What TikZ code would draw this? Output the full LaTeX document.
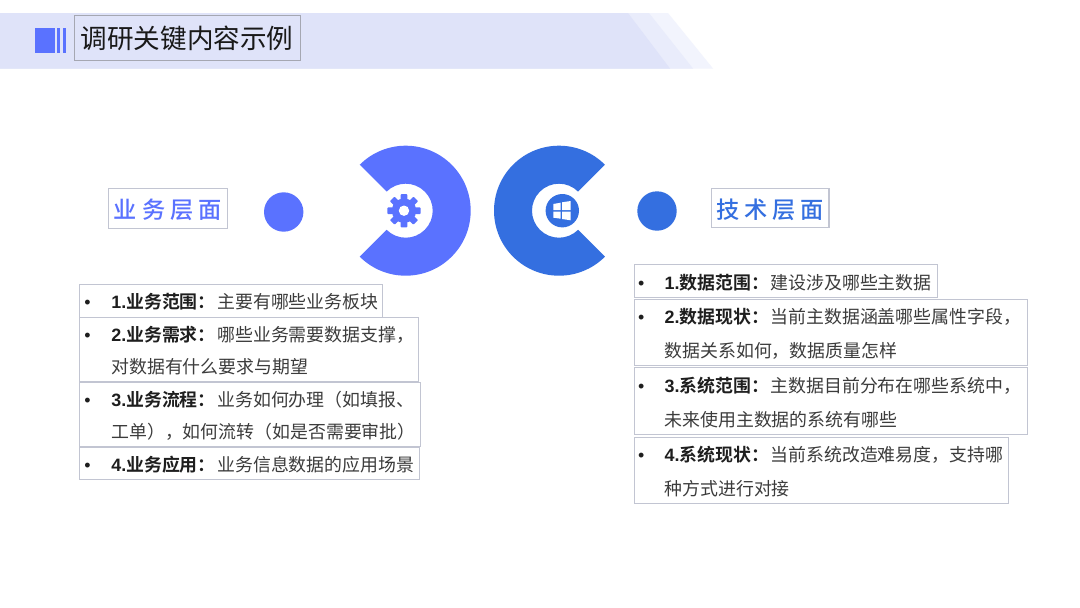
\documentclass[tikz,border=0pt]{standalone}
\usepackage{fontspec}
\setmainfont{Noto Sans CJK SC}[BoldFont={Noto Sans CJK SC Bold}]
\newfontfamily\latinface{Liberation Sans}[BoldFont={Liberation Sans Bold}]
\newfontfamily\tagface{Noto Sans CJK SC Medium}
\definecolor{bandA}{HTML}{DFE3F9}
\definecolor{bandB}{HTML}{E9ECFB}
\definecolor{bandC}{HTML}{F2F4FD}
\definecolor{iris}{HTML}{5A72FF}
\definecolor{azure}{HTML}{346FE0}
\definecolor{frameline}{HTML}{C2C5D2}
\definecolor{bodyink}{HTML}{3C3C3C}
\definecolor{leadink}{HTML}{1E1E1E}
% first line of an item: bullet offset, text offset, number, lead words, rest
\newcommand{\itemhead}[5]{\rule{0pt}{17.5pt}\makebox[#2][l]{\hspace*{#1}{\latinface\textcolor{leadink}{\textbullet}}}\makebox[106pt][l]{\bfseries\color{leadink}{\latinface #3}#4}{\color{bodyink}#5}}
\newcommand{\itemcont}[2]{\hspace*{#1}{\color{bodyink}#2}}
\newcommand{\spaced}[4]{#1\hspace{5pt}#2\hspace{5pt}#3\hspace{5pt}#4}
\tikzset{
  x=1pt,y=-1pt,
  itembox/.style={draw=frameline,line width=1.1pt,anchor=north west,inner sep=0pt,
    font=\fontsize{17.9pt}{#1}\selectfont,align=left},
  tagbox/.style={draw=frameline,line width=1.1pt,inner sep=0pt,text height=24pt,text depth=3.6pt,
    font=\tagface\fontsize{23.2pt}{28pt}\selectfont},
  titlebox/.style={draw=frameline!85!black,line width=1pt,inner sep=0pt,
    font=\fontsize{26.6pt}{32pt}\selectfont,text=black!90},
  tooth/.style={fill=iris,rounded corners=0.8pt},
}
\begin{document}
\begin{tikzpicture}
\useasboundingbox (0,0) rectangle (1080,608);
\fill[white] (0,0) rectangle (1080,608);
% header band
\fill[bandC] (0,13) -- (668,13) -- (713,68.5) -- (0,68.5) -- cycle;
\fill[bandB] (0,13) -- (649,13) -- (693,68.5) -- (0,68.5) -- cycle;
\fill[bandA] (0,13) -- (628,13) -- (670,68.5) -- (0,68.5) -- cycle;
\fill[iris] (35,27.5) rectangle (55,52.5);
\fill[iris] (57.3,27.5) rectangle (60,52.5);
\fill[iris] (62.8,27.5) rectangle (65.6,52.5);
\node[titlebox,minimum width=226pt,minimum height=44.7pt] (title) at (187,38.3) {调研关键内容示例};
% C rings
\fill[iris] (405.7,210.7) ++(-135:65) arc[start angle=-135,delta angle=270,radius=65]
  -- ++(315:38) arc[start angle=135,delta angle=-270,radius=27] -- cycle;
\fill[azure] (559,210.7) ++(-45:65) arc[start angle=-45,delta angle=-270,radius=65]
  -- ++(225:38) arc[start angle=-315,delta angle=270,radius=27] -- cycle;
% gear icon
\foreach \a in {0,45,...,315}{
  \begin{scope}[shift={(404,210.7)},rotate=\a]
    \fill[tooth] (-3.3,-16.6) rectangle (3.3,-9);
  \end{scope}
}
\fill[iris] (404,210.7) circle[radius=12.2];
\fill[white] (404,210.7) circle[radius=5.2];
% windows icon
\fill[azure] (562.3,210.7) circle[radius=16.7];
\fill[white] (553.3,204) -- (560.7,202.7) -- (560.7,210) -- (553.3,210) -- cycle;
\fill[white] (562,202.3) -- (570.7,201) -- (570.7,210) -- (562,210) -- cycle;
\fill[white] (553.3,211.7) -- (560.7,211.7) -- (560.7,218.7) -- (553.3,217.7) -- cycle;
\fill[white] (562,211.7) -- (570.7,211.7) -- (570.7,220.3) -- (562,219) -- cycle;
% dots and tags
\fill[iris] (283.7,212) circle[radius=19.7];
\fill[azure] (657,211) circle[radius=19.7];
\node[tagbox,text=iris,minimum width=119pt,minimum height=40pt] (bizTag) at (167.8,208.3) {\spaced{业}{务}{层}{面}};
\node[tagbox,text=azure,minimum width=117.3pt,minimum height=39pt] (techTag) at (770.3,207.8) {\spaced{技}{术}{层}{面}};
% left items
\node[itembox=32pt,minimum width=303pt,minimum height=32.7pt,text width=303pt] (l1) at (79.3,284)
  {\itemhead{4.5pt}{31.5pt}{1.}{业务范围：}{主要有哪些业务板块}};
\node[itembox=32pt,minimum width=339pt,minimum height=63.7pt,text width=339pt] (l2) at (79.3,317)
  {\itemhead{4.5pt}{31.5pt}{2.}{业务需求：}{哪些业务需要数据支撑，}\\\itemcont{31.5pt}{对数据有什么要求与期望}};
\node[itembox=32pt,minimum width=341pt,minimum height=64pt,text width=341pt] (l3) at (79.3,381.7)
  {\itemhead{4.5pt}{31.5pt}{3.}{业务流程：}{业务如何办理（如填报、}\\\itemcont{31.5pt}{工单），如何流转（如是否需要审批）}};
\node[itembox=32pt,minimum width=339.7pt,minimum height=32.6pt,text width=339.7pt] (l4) at (79.3,446.7)
  {\itemhead{4.5pt}{31.5pt}{4.}{业务应用：}{业务信息数据的应用场景}};
% right items
\node[itembox=34pt,minimum width=302.7pt,minimum height=33.3pt,text width=302.7pt] (r1) at (634,264)
  {\itemhead{3.5pt}{30pt}{1.}{数据范围：}{建设涉及哪些主数据}};
\node[itembox=34pt,minimum width=392.7pt,minimum height=66.6pt,text width=392.7pt] (r2) at (634,298.7)
  {\itemhead{3.5pt}{30pt}{2.}{数据现状：}{当前主数据涵盖哪些属性字段，}\\\itemcont{30pt}{数据关系如何，数据质量怎样}};
\node[itembox=34pt,minimum width=392.7pt,minimum height=66.7pt,text width=392.7pt] (r3) at (634,367.3)
  {\itemhead{3.5pt}{30pt}{3.}{系统范围：}{主数据目前分布在哪些系统中，}\\\itemcont{30pt}{未来使用主数据的系统有哪些}};
\node[itembox=34pt,minimum width=374.3pt,minimum height=66.6pt,text width=374.3pt] (r4) at (634,436.7)
  {\itemhead{3.5pt}{30pt}{4.}{系统现状：}{当前系统改造难易度，支持哪}\\\itemcont{30pt}{种方式进行对接}};
\end{tikzpicture}
\end{document}
